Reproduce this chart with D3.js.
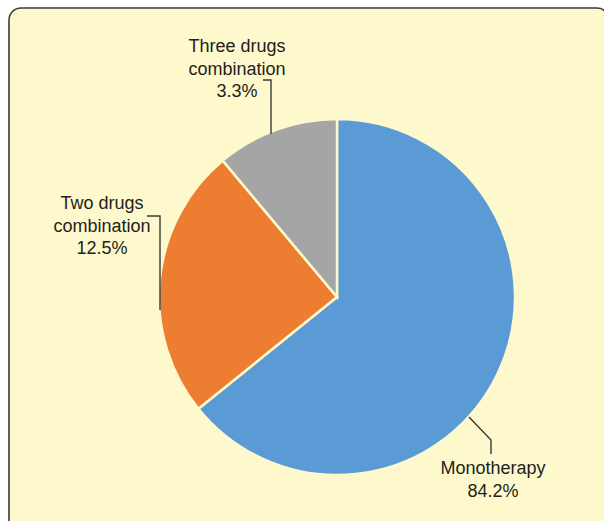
<!DOCTYPE html>
<html lang="en">
<head>
  <meta charset="UTF-8" />
  <title>Treatment regimens</title>
  <script src="https://d3js.org/d3.v7.min.js"></script>
  <style>
    body { margin: 0; background: #fff; }
    text { font-family: "Liberation Sans", Arial, sans-serif; fill: #231f20; }
  </style>
</head>
<body>
  <div id="chart"></div>

  <script>
    // categories and the labels printed on the chart
    const categories = ["Monotherapy", "Two drugs combination", "Three drugs combination"];
    const labelLines = [["Monotherapy"], ["Two drugs", "combination"], ["Three drugs", "combination"]];
    const percentLabels = ["84.2%", "12.5%", "3.3%"];
    // slice shares as drawn in the picture (the drawn angles differ from the printed percentages)
    const sliceShares = [64.2, 24.7, 11.1];
    const colors = ["#5b9bd5", "#ed7d31", "#a5a5a5"];

    const width = 604, height = 521;
    const cx = 337, cy = 297, radius = 178;

    const svg = d3.select("#chart")
      .append("svg")
      .attr("width", width)
      .attr("height", height);

    // cream panel
    svg.append("rect")
      .attr("x", 9)
      .attr("y", 8)
      .attr("width", 600)
      .attr("height", 540)
      .attr("rx", 12)
      .attr("fill", "#fef9cc")
      .attr("stroke", "#3a3a3a")
      .attr("stroke-width", 1.6);

    const data = categories.map((c, i) => ({
      name: c, value: sliceShares[i], lines: labelLines[i], pct: percentLabels[i], color: colors[i]
    }));

    const pie = d3.pie().sort(null).value(d => d.value);
    const arc = d3.arc().innerRadius(0).outerRadius(radius);

    const g = svg.append("g").attr("transform", `translate(${cx},${cy})`);

    g.selectAll("path.slice")
      .data(pie(data))
      .enter()
      .append("path")
      .attr("class", "slice")
      .attr("d", arc)
      .attr("fill", d => d.data.color)
      .attr("stroke", "#fef9cc")
      .attr("stroke-width", 2.5);

    // label placement (text centre, leader points) per slice
    const labelPos = [
      { x: 493, y: 468, leader: [[469, 417], [491, 440], [491, 454]] },
      { x: 102, y: 203, leader: [[147, 216], [160, 216], [160, 310]] },
      { x: 237, y: 46,  leader: [[263, 80], [271, 80], [271, 134]] }
    ];

    const line = d3.line();

    labelPos.forEach((p, i) => {
      svg.append("path")
        .attr("d", line(p.leader))
        .attr("fill", "none")
        .attr("stroke", "#3a3a3a")
        .attr("stroke-width", 1.4);

      const lines = data[i].lines.concat([data[i].pct]);
      const t = svg.append("text")
        .attr("text-anchor", "middle")
        .style("font-size", "18px");
      lines.forEach((s, j) => {
        t.append("tspan")
          .attr("x", p.x)
          .attr("y", p.y + j * 22.5)
          .attr("dy", "0.35em")
          .text(s);
      });
    });
  </script>
</body>
</html>
